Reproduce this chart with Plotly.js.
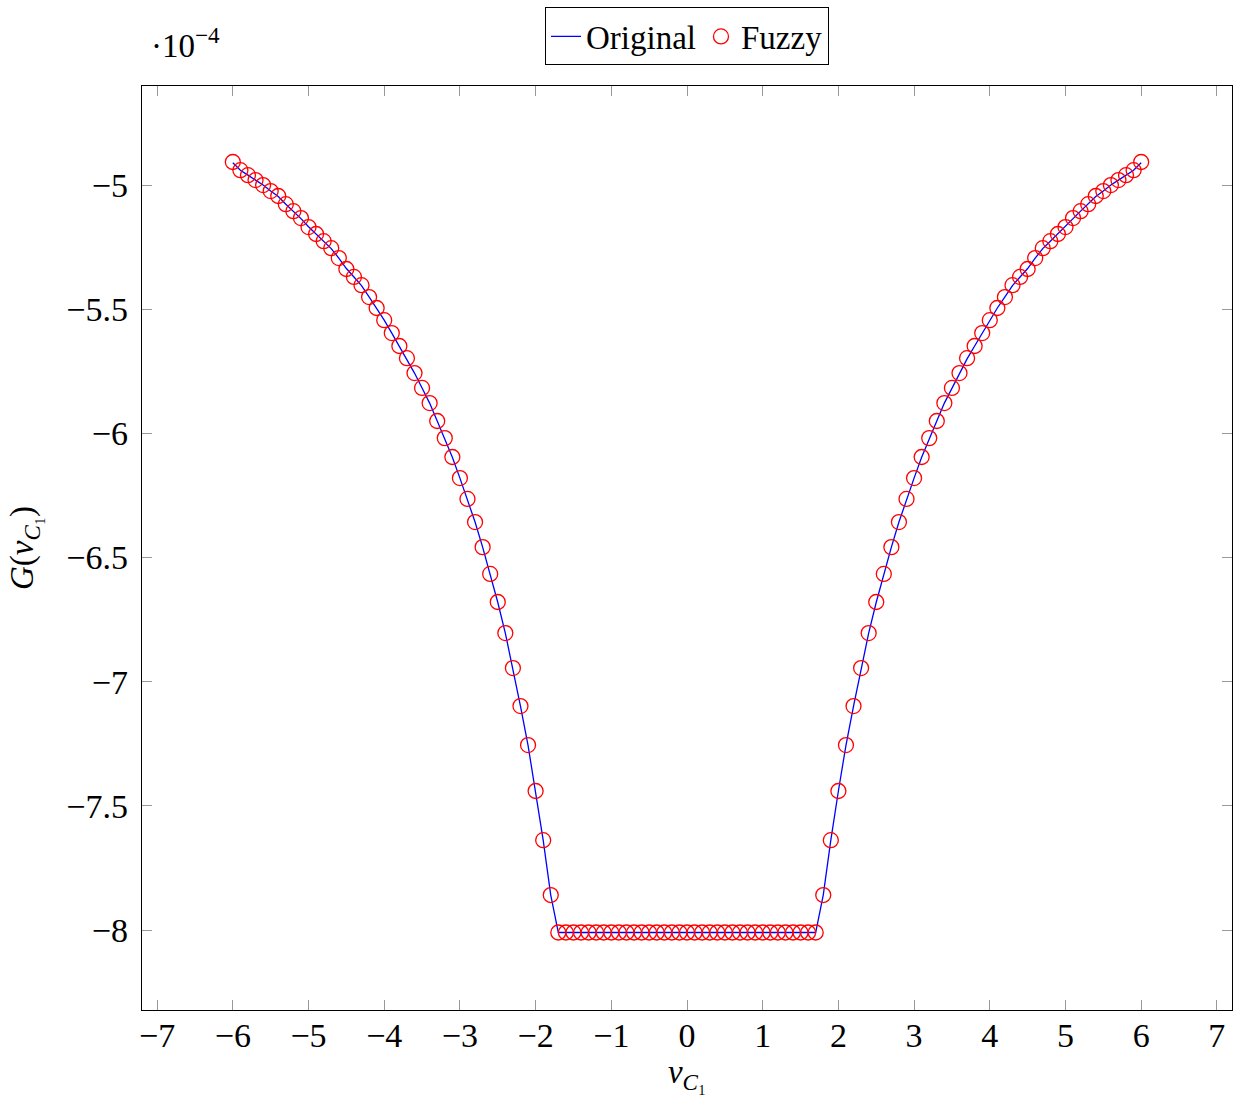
<!DOCTYPE html>
<html>
<head>
<meta charset="utf-8">
<script src="https://cdn.plot.ly/plotly-3.0.1.min.js"></script>
<style>html,body{margin:0;padding:0;background:#fff;}</style>
</head>
<body>
<div id="chart" style="width:1243px;height:1095px;"></div>
<script>
// v_C1 sample points
const vC1 = [
 -6.0,-5.9,-5.8,-5.7,-5.6,-5.5,-5.4,-5.3,-5.2,-5.1,
 -5.0,-4.9,-4.8,-4.7,-4.6,-4.5,-4.4,-4.3,-4.2,-4.1,
 -4.0,-3.9,-3.8,-3.7,-3.6,-3.5,-3.4,-3.3,-3.2,-3.1,
 -3.0,-2.9,-2.8,-2.7,-2.6,-2.5,-2.4,-2.3,-2.2,-2.1,
 -2.0,-1.9,-1.8,-1.7,-1.6,-1.5,-1.4,-1.3,-1.2,-1.1,
 -1.0,-0.9,-0.8,-0.7,-0.6,-0.5,-0.4,-0.3,-0.2,-0.1,
 0.0,0.1,0.2,0.3,0.4,0.5,0.6,0.7,0.8,0.9,
 1.0,1.1,1.2,1.3,1.4,1.5,1.6,1.7,1.8,1.9,
 2.0,2.1,2.2,2.3,2.4,2.5,2.6,2.7,2.8,2.9,
 3.0,3.1,3.2,3.3,3.4,3.5,3.6,3.7,3.8,3.9,
 4.0,4.1,4.2,4.3,4.4,4.5,4.6,4.7,4.8,4.9,
 5.0,5.1,5.2,5.3,5.4,5.5,5.6,5.7,5.8,5.9,
 6.0
];
// G(v_C1) in units of 1e-4 (Original)
const originalG = [
 -4.910,-4.940,-4.960,-4.980,-5.000,-5.024,-5.046,-5.077,-5.105,-5.135,
 -5.168,-5.197,-5.226,-5.256,-5.294,-5.336,-5.370,-5.405,-5.450,-5.495,
 -5.544,-5.596,-5.648,-5.700,-5.757,-5.817,-5.878,-5.950,-6.020,-6.096,
 -6.180,-6.265,-6.357,-6.458,-6.566,-6.680,-6.804,-6.945,-7.098,-7.256,
 -7.440,-7.638,-7.859,-8.010,-8.010,-8.010,-8.010,-8.010,-8.010,-8.010,
 -8.010,-8.010,-8.010,-8.010,-8.010,-8.010,-8.010,-8.010,-8.010,-8.010,
 -8.010,-8.010,-8.010,-8.010,-8.010,-8.010,-8.010,-8.010,-8.010,-8.010,
 -8.010,-8.010,-8.010,-8.010,-8.010,-8.010,-8.010,-8.010,-7.859,-7.638,
 -7.440,-7.256,-7.098,-6.945,-6.804,-6.680,-6.566,-6.458,-6.357,-6.265,
 -6.180,-6.096,-6.020,-5.950,-5.878,-5.817,-5.757,-5.700,-5.648,-5.596,
 -5.544,-5.495,-5.450,-5.405,-5.370,-5.336,-5.294,-5.256,-5.226,-5.197,
 -5.168,-5.135,-5.105,-5.077,-5.046,-5.024,-5.000,-4.980,-4.960,-4.940,
 -4.910
];
// G(v_C1) in units of 1e-4 (Fuzzy)
const fuzzyG = [
 -4.907,-4.940,-4.960,-4.980,-5.000,-5.024,-5.044,-5.077,-5.105,-5.133,
 -5.169,-5.197,-5.226,-5.254,-5.294,-5.338,-5.370,-5.403,-5.451,-5.495,
 -5.544,-5.596,-5.648,-5.697,-5.757,-5.817,-5.878,-5.950,-6.019,-6.095,
 -6.180,-6.264,-6.357,-6.458,-6.566,-6.679,-6.804,-6.945,-7.098,-7.255,
 -7.440,-7.638,-7.859,-8.010,-8.010,-8.010,-8.010,-8.010,-8.010,-8.010,
 -8.010,-8.010,-8.010,-8.010,-8.010,-8.010,-8.010,-8.010,-8.010,-8.010,
 -8.010,-8.010,-8.010,-8.010,-8.010,-8.010,-8.010,-8.010,-8.010,-8.010,
 -8.010,-8.010,-8.010,-8.010,-8.010,-8.010,-8.010,-8.010,-7.859,-7.638,
 -7.440,-7.255,-7.098,-6.945,-6.804,-6.679,-6.566,-6.458,-6.357,-6.264,
 -6.180,-6.095,-6.019,-5.950,-5.878,-5.817,-5.757,-5.697,-5.648,-5.596,
 -5.544,-5.495,-5.451,-5.403,-5.370,-5.338,-5.294,-5.254,-5.226,-5.197,
 -5.169,-5.133,-5.105,-5.077,-5.044,-5.024,-5.000,-4.980,-4.960,-4.940,
 -4.907
];
const seriesNames = ["Original", "Fuzzy"];
const exponentLabel = "·10<sup>−4</sup>";

const FONT = "Liberation Serif, DejaVu Serif, serif";

const traces = [
  {
    x: vC1, y: originalG, name: seriesNames[0], type: "scatter", mode: "lines",
    line: {color: "rgb(0,0,255)", width: 1.3}
  },
  {
    x: vC1, y: fuzzyG, name: seriesNames[1], type: "scatter", mode: "markers",
    marker: {symbol: "circle-open", color: "rgb(255,0,0)", size: 15, line: {color: "rgb(255,0,0)", width: 1.3}}
  }
];

const axisCommon = {
  showgrid: false, zeroline: false,
  showline: true, linecolor: "#000", linewidth: 1.3, mirror: "ticks",
  ticks: "inside", ticklen: 10, tickwidth: 1, tickcolor: "#999",
  tickfont: {family: FONT, size: 34, color: "#000"}
};

const layout = {
  width: 1243, height: 1095,
  margin: {l: 142, r: 11, t: 86, b: 85, autoexpand: false},
  paper_bgcolor: "#fff", plot_bgcolor: "#fff",
  font: {family: FONT, size: 33, color: "#000"},
  showlegend: true,
  legend: {
    orientation: "h", x: 0.5, xanchor: "center", y: 1.085, yanchor: "top",
    bordercolor: "#000", borderwidth: 1, bgcolor: "#fff",
    font: {family: FONT, size: 33, color: "#000"},
    itemwidth: 30, tracegroupgap: 0
  },
  xaxis: Object.assign({}, axisCommon, {
    range: [-7.2, 7.2], tick0: 0, dtick: 1, ticklabelstandoff: -5,
    title: {text: "<i>v</i><sub><i>C</i>₁</sub>", font: {family: FONT, size: 33}, standoff: 6}
  }),
  yaxis: Object.assign({}, axisCommon, {
    range: [-8.322, -4.601], tick0: -5, dtick: 0.5, ticklabelstandoff: 6,
    title: {text: "<i>G</i>(<i>v</i><sub><i>C</i>₁</sub>)", font: {family: FONT, size: 33}, standoff: 22}
  }),
  annotations: [{
    text: exponentLabel, xref: "paper", yref: "paper", x: 0.006, y: 1.022,
    xanchor: "left", yanchor: "bottom", showarrow: false,
    font: {family: FONT, size: 33, color: "#000"}
  }]
};

Plotly.newPlot("chart", traces, layout, {displayModeBar: false, staticPlot: true});
</script>
</body>
</html>
